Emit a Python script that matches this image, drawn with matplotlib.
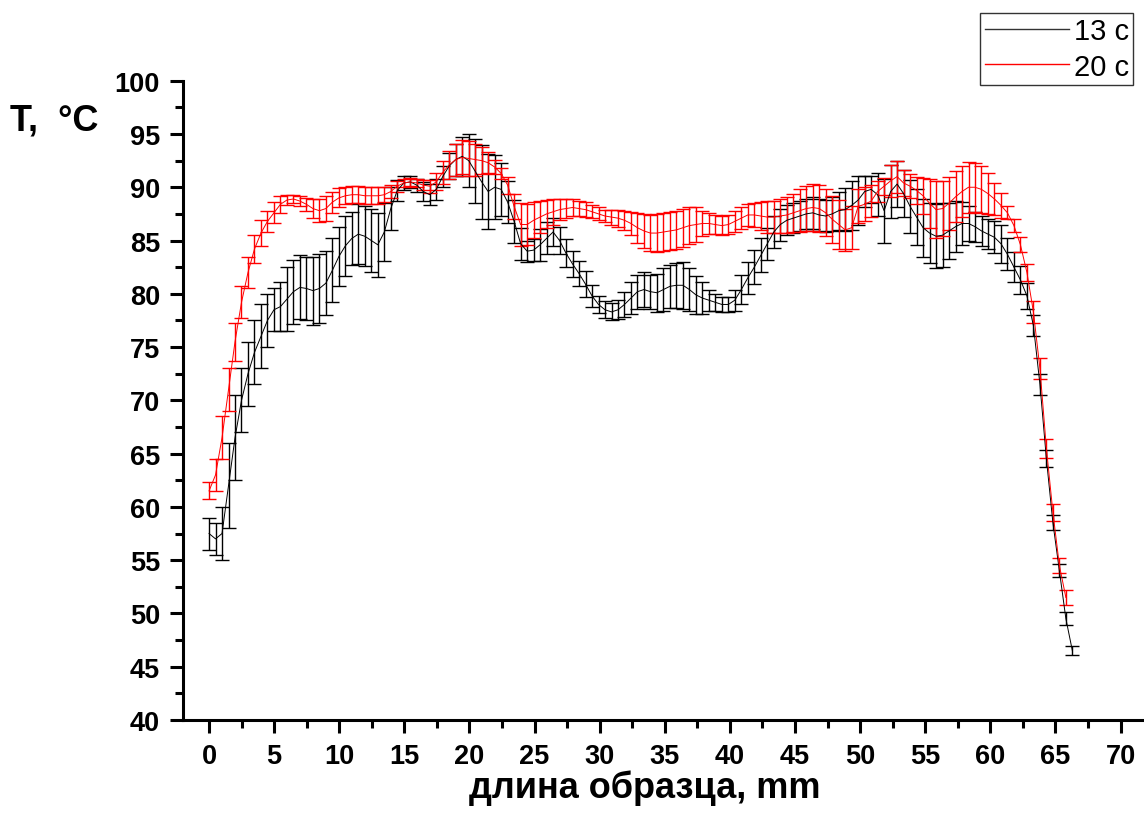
import numpy as np
import matplotlib
matplotlib.use('Agg')
import matplotlib.pyplot as plt
from matplotlib.lines import Line2D

plt.rcParams['font.family'] = ['Liberation Sans', 'DejaVu Sans']

# 13 c series (black), mean temperature and error, 0 .. 66.3 mm
t13 = [57.5, 57.0, 57.5, 62.0, 66.5, 70.0, 72.5, 74.5, 76.0, 77.5,
       78.5, 78.8, 79.5, 80.2, 80.6, 80.5, 80.3, 80.5, 81.0, 82.2,
       83.5, 84.5, 85.2, 85.6, 85.4, 85.0, 84.6, 85.8, 88.0, 89.7,
       90.4, 90.5, 90.2, 89.6, 89.3, 89.8, 91.0, 92.0, 92.6, 92.9,
       92.5, 91.5, 90.5, 89.6, 90.0, 89.8, 88.6, 86.8, 84.7, 84.0,
       84.1, 84.6, 85.2, 85.8, 85.0, 83.8, 82.8, 81.9, 80.9, 79.8,
       79.0, 78.5, 78.3, 78.5, 79.0, 79.6, 80.2, 80.4, 80.2, 80.1,
       80.4, 80.7, 80.8, 80.8, 80.4, 79.9, 79.6, 79.4, 79.2, 79.0,
       79.0, 79.4, 80.4, 81.5, 82.5, 83.6, 84.7, 85.8, 86.5, 86.9,
       87.1, 87.3, 87.5, 87.6, 87.4, 87.3, 87.5, 87.8, 87.9, 88.3,
       88.8, 89.6, 89.8, 89.3, 87.8, 89.6, 90.3, 89.4, 88.2, 87.2,
       86.2, 85.7, 85.4, 85.5, 85.9, 86.3, 86.6, 86.6, 86.3, 85.9,
       85.6, 85.3, 84.7, 83.7, 82.5, 81.3, 79.8, 77.0, 71.5, 64.5,
       58.5, 54.0, 49.5, 46.5]
e13 = [1.5, 1.5, 2.5, 4.0, 4.0, 3.0, 3.0, 3.0, 3.0, 2.5,
       2.0, 2.3, 3.0, 3.0, 3.0, 3.0, 3.2, 3.2, 3.0, 3.0,
       2.8, 2.8, 2.5, 2.8, 2.8, 3.0, 3.0, 2.7, 2.0, 1.0,
       0.7, 0.6, 0.6, 0.9, 1.0, 1.0, 1.0, 1.2, 1.5, 1.8,
       2.5, 3.0, 3.5, 3.5, 3.0, 2.5, 2.0, 2.0, 1.5, 1.0,
       1.0, 1.5, 1.5, 1.3, 1.3, 1.3, 1.2, 1.2, 1.2, 1.0,
       0.8, 0.8, 0.8, 0.9, 1.2, 1.5, 1.6, 1.6, 1.6, 1.8,
       2.0, 2.0, 2.1, 2.2, 2.0, 1.8, 1.5, 1.0, 0.8, 0.7,
       0.7, 1.0, 1.4, 1.5, 1.6, 1.6, 1.5, 1.5, 1.5, 1.4,
       1.4, 1.4, 1.4, 1.5, 1.5, 1.5, 1.6, 1.8, 2.0, 2.3,
       2.3, 1.5, 1.3, 2.0, 3.0, 2.5, 2.2, 2.2, 2.5, 2.6,
       2.7, 2.8, 3.0, 3.0, 2.6, 2.4, 2.0, 1.6, 1.4, 1.4,
       1.4, 1.5, 1.8, 1.5, 1.4, 1.3, 1.2, 1.0, 1.0, 0.8,
       0.7, 0.6, 0.6, 0.4]

# 20 c series (red), 0 .. 65.8 mm
t20 = [61.5, 63.0, 66.5, 71.0, 75.5, 79.2, 82.0, 84.2, 85.7, 86.8,
       87.6, 88.4, 88.8, 88.9, 88.7, 88.4, 88.0, 87.8, 88.0, 88.6,
       89.0, 89.2, 89.3, 89.3, 89.2, 89.2, 89.2, 89.3, 89.6, 90.1,
       90.4, 90.5, 90.4, 90.2, 90.1, 90.5, 91.4, 92.1, 92.6, 92.8,
       92.7, 92.6, 92.5, 92.3, 91.9, 91.3, 90.2, 88.2, 86.5, 86.5,
       86.9, 87.2, 87.5, 87.7, 87.9, 88.0, 88.1, 88.0, 87.9, 87.7,
       87.5, 87.3, 87.2, 87.1, 86.9, 86.6, 86.2, 85.9, 85.7, 85.7,
       85.8, 85.9, 86.0, 86.2, 86.4, 86.5, 86.6, 86.6, 86.5, 86.4,
       86.5, 86.8, 87.1, 87.4, 87.4, 87.3, 87.2, 87.2, 87.3, 87.4,
       87.6, 87.8, 88.0, 88.1, 88.0, 87.6, 87.0, 86.5, 86.0, 86.2,
       88.2, 88.4, 88.7, 89.6, 90.1, 90.6, 91.0, 90.4, 90.1, 89.7,
       89.2, 88.5, 87.9, 88.0, 88.5, 89.1, 89.6, 90.0, 90.0, 89.8,
       89.4, 88.9, 88.3, 87.6, 86.4, 84.6, 82.0, 78.3, 73.0, 65.5,
       59.5, 54.5, 51.5]
e20 = [0.8, 1.5, 2.0, 2.0, 1.8, 1.5, 1.5, 1.3, 1.2, 1.0,
       1.0, 0.8, 0.5, 0.4, 0.5, 0.6, 0.9, 1.1, 1.2, 1.0,
       0.9, 0.8, 0.8, 0.8, 0.8, 0.8, 0.8, 0.7, 0.6, 0.5,
       0.4, 0.4, 0.4, 0.5, 0.6, 0.8, 1.1, 1.3, 1.5, 1.6,
       1.6, 1.5, 1.3, 1.0, 0.7, 0.5, 0.8, 1.2, 2.0, 1.9,
       1.7, 1.5, 1.3, 1.2, 1.0, 0.9, 0.8, 0.7, 0.7, 0.6,
       0.6, 0.6, 0.7, 0.8, 0.9, 1.1, 1.4, 1.6, 1.7, 1.8,
       1.8, 1.8, 1.8, 1.8, 1.7, 1.6, 1.2, 1.0, 0.9, 0.9,
       0.9, 1.0, 1.0, 1.0, 1.1, 1.3, 1.5, 1.5, 1.6, 1.7,
       1.8, 2.0, 2.1, 2.2, 2.2, 2.2, 2.2, 2.3, 2.0, 2.0,
       1.6, 1.6, 1.5, 1.0, 0.8, 1.5, 1.5, 1.2, 1.1, 1.3,
       1.7, 2.3, 2.7, 2.6, 2.5, 2.4, 2.4, 2.4, 2.3, 2.2,
       1.9, 1.5, 1.2, 0.6, 0.6, 0.7, 0.8, 1.0, 1.0, 0.9,
       0.8, 0.7, 0.7]

x13 = np.linspace(0, 66.3, len(t13))
x20 = np.linspace(0, 65.8, len(t20))

fig = plt.figure(figsize=(11.44, 8.28), dpi=100)
ax = fig.add_axes([183 / 1144, 1 - 721 / 828, (1144 - 183) / 1144, (721 - 81.7) / 828])

ax.errorbar(x13, t13, yerr=e13, color='black', lw=0.7, elinewidth=1.0,
            capsize=5, capthick=1.0)
ax.errorbar(x20, t20, yerr=e20, color='#ff0000', lw=0.7, elinewidth=1.0,
            capsize=5, capthick=1.0)

ax.set_xlim(-2.0, 71.8)
ax.set_ylim(40, 100)
ax.set_xticks(np.arange(0, 71, 5))
ax.set_xticks(np.arange(2.5, 71, 5), minor=True)
ax.set_yticks(np.arange(40, 101, 5))
ax.set_yticks(np.arange(42.5, 100, 5), minor=True)

for s in ['top', 'right']:
    ax.spines[s].set_visible(False)
for s in ['left', 'bottom']:
    ax.spines[s].set_linewidth(2.2)

ax.tick_params(which='major', direction='out', length=9.5, width=2.2,
               labelsize=19.5, pad=7)
ax.tick_params(which='minor', direction='out', length=5.5, width=2.2)
for lab in ax.get_xticklabels() + ax.get_yticklabels():
    lab.set_fontweight('bold')

fig.text(10 / 1144, 1 - 121 / 828, 'T,  °C', fontsize=26, fontweight='bold',
         ha='left', va='center')
fig.text(645 / 1144, 1 - 788 / 828, 'длина образца, mm', fontsize=26,
         fontweight='bold', ha='center', va='center')

handles = [Line2D([], [], color='#333333', lw=1.0),
           Line2D([], [], color='#ff0000', lw=1.0)]
leg = fig.legend(handles, ['13 c', '20 c'], loc='upper right',
                 bbox_to_anchor=(1133 / 1144, 1 - 14 / 828), fontsize=21,
                 frameon=True, fancybox=False, handlelength=2.9,
                 handletextpad=0.15, labelspacing=0.25, borderpad=0.15,
                 borderaxespad=0)
leg.get_frame().set_edgecolor('black')
leg.get_frame().set_linewidth(1.0)

fig.savefig('out.png', dpi=100)
